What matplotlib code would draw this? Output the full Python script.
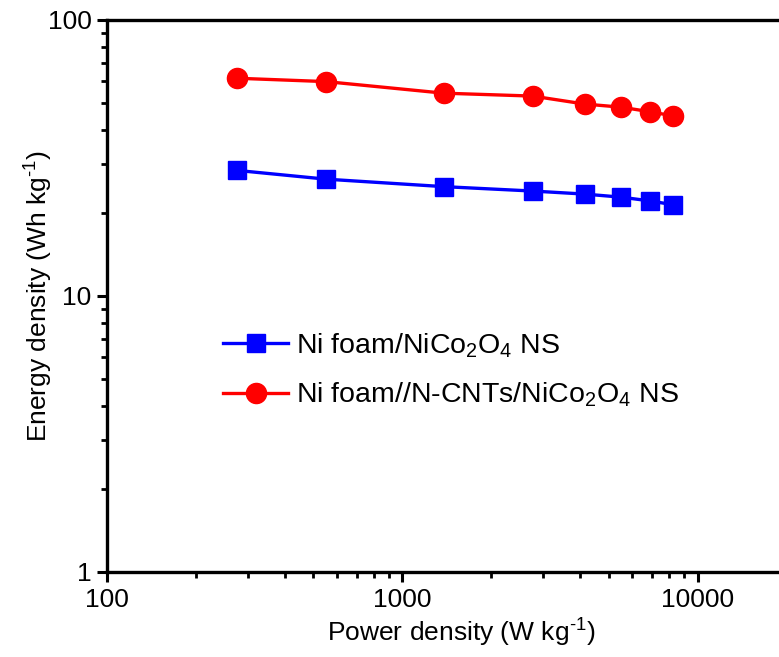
import numpy as np
import matplotlib.pyplot as plt
from matplotlib import ticker

plt.rcParams['font.family'] = ['Liberation Sans', 'DejaVu Sans']
plt.rcParams['mathtext.fontset'] = 'custom'
plt.rcParams['mathtext.rm'] = 'Liberation Sans'
plt.rcParams['mathtext.it'] = 'Liberation Sans:italic'

# data
power = [276, 552, 1380, 2760, 4140, 5520, 6900, 8280]
energy_ni = [28.5, 26.5, 24.9, 24.0, 23.4, 22.8, 22.1, 21.4]
energy_ncnt = [61.5, 59.8, 54.3, 53.0, 49.6, 48.3, 46.5, 44.9]

label_ni = 'Ni foam/NiCo$_2$O$_4$ NS'
label_ncnt = 'Ni foam//N-CNTs/NiCo$_2$O$_4$ NS'

fig = plt.figure(figsize=(7.79, 6.57), dpi=100)
ax = fig.add_axes([0.1374, 0.1294, 0.909, 0.8402])

ax.plot(power, energy_ni, color='blue', marker='s', markersize=13.5, linewidth=2.4, label=label_ni)
ax.plot(power, energy_ncnt, color='red', marker='o', markersize=14.5, linewidth=2.4, label=label_ncnt)

ax.set_xscale('log')
ax.set_yscale('log')
ax.set_xlim(100, 25000)
ax.set_ylim(1, 100)

ax.xaxis.set_major_locator(ticker.FixedLocator([100, 1000, 10000]))
ax.xaxis.set_major_formatter(ticker.FixedFormatter(['100', '1000', '10000']))
ax.yaxis.set_major_locator(ticker.FixedLocator([1, 10, 100]))
ax.yaxis.set_major_formatter(ticker.FixedFormatter(['1', '10', '100']))
ax.xaxis.set_minor_locator(ticker.LogLocator(base=10, subs=np.arange(2, 10)))
ax.yaxis.set_minor_locator(ticker.LogLocator(base=10, subs=np.arange(2, 10)))
ax.xaxis.set_minor_formatter(ticker.NullFormatter())
ax.yaxis.set_minor_formatter(ticker.NullFormatter())

for s in ax.spines.values():
    s.set_linewidth(2.4)
ax.tick_params(which='major', direction='out', length=7.2, width=2.2, labelsize=19, pad=4)
ax.tick_params(which='minor', direction='out', length=4.3, width=2.0)

ax.set_xlabel('Power density (W kg$^{\\text{-}1}$)', fontsize=19, labelpad=4)
ax.set_ylabel('Energy density (Wh kg$^{\\text{-}1}$)', fontsize=19, labelpad=-5)

ax.legend(loc='upper left', bbox_to_anchor=(223 / 779, 1 - 331 / 657),
          bbox_transform=fig.transFigure, frameon=False, fontsize=20.5,
          handlelength=2.3, handletextpad=0.25, labelspacing=0.74,
          borderpad=0, borderaxespad=0)

fig.savefig('out.png', dpi=100)
